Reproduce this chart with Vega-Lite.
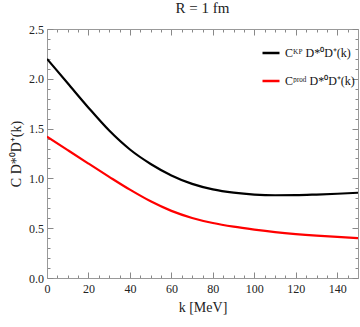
{
  "$schema": "https://vega.github.io/schema/vega-lite/v6.json",
  "width": 311,
  "height": 249,
  "autosize": {"type": "none"},
  "padding": {"left": 47, "top": 29, "right": 2, "bottom": 49},
  "config": {
    "view": {"stroke": null},
    "font": "Liberation Serif",
    "axis": {
      "grid": false,
      "domainColor": "#999999",
      "tickColor": "#888888",
      "tickSize": -6,
      "labelFont": "Liberation Serif",
      "labelFontSize": 12,
      "labelColor": "#222222",
      "titleFont": "Liberation Serif",
      "titleFontSize": 14,
      "titleFontWeight": "normal",
      "titleColor": "#222222"
    }
  },
  "title": {
    "text": "R = 1 fm",
    "font": "Liberation Serif",
    "fontSize": 15,
    "fontWeight": "normal",
    "color": "#222222",
    "offset": 7
  },
  "data": {
    "values": [
      {"k": 0, "v": 2.2, "s": "KP"},
      {"k": 10, "v": 1.955, "s": "KP"},
      {"k": 20, "v": 1.71, "s": "KP"},
      {"k": 30, "v": 1.48, "s": "KP"},
      {"k": 40, "v": 1.29, "s": "KP"},
      {"k": 50, "v": 1.145, "s": "KP"},
      {"k": 60, "v": 1.03, "s": "KP"},
      {"k": 70, "v": 0.945, "s": "KP"},
      {"k": 80, "v": 0.89, "s": "KP"},
      {"k": 90, "v": 0.857, "s": "KP"},
      {"k": 100, "v": 0.838, "s": "KP"},
      {"k": 110, "v": 0.831, "s": "KP"},
      {"k": 120, "v": 0.832, "s": "KP"},
      {"k": 130, "v": 0.838, "s": "KP"},
      {"k": 140, "v": 0.846, "s": "KP"},
      {"k": 150, "v": 0.856, "s": "KP"},
      {"k": 0, "v": 1.42, "s": "prod"},
      {"k": 10, "v": 1.284, "s": "prod"},
      {"k": 20, "v": 1.149, "s": "prod"},
      {"k": 30, "v": 1.016, "s": "prod"},
      {"k": 40, "v": 0.887, "s": "prod"},
      {"k": 50, "v": 0.77, "s": "prod"},
      {"k": 60, "v": 0.674, "s": "prod"},
      {"k": 70, "v": 0.603, "s": "prod"},
      {"k": 80, "v": 0.552, "s": "prod"},
      {"k": 90, "v": 0.515, "s": "prod"},
      {"k": 100, "v": 0.486, "s": "prod"},
      {"k": 110, "v": 0.461, "s": "prod"},
      {"k": 120, "v": 0.441, "s": "prod"},
      {"k": 130, "v": 0.425, "s": "prod"},
      {"k": 140, "v": 0.412, "s": "prod"},
      {"k": 150, "v": 0.4, "s": "prod"}
    ]
  },
  "resolve": {"axis": {"x": "independent", "y": "independent"}},
  "layer": [
    {
      "mark": {"type": "line", "interpolate": "monotone", "strokeWidth": 2.2, "clip": true},
      "encoding": {
        "x": {
          "field": "k", "type": "quantitative",
          "scale": {"domain": [0, 150], "nice": false, "zero": false},
          "axis": {
            "orient": "bottom",
            "title": "k [MeV]",
            "titlePadding": 6,
            "values": [0,5,10,15,20,25,30,35,40,45,50,55,60,65,70,75,80,85,90,95,100,105,110,115,120,125,130,135,140,145,150],
            "labelExpr": "datum.value % 20 === 0 ? datum.label : ''",
            "tickDash": {"condition": {"test": "datum.value % 20 === 0", "value": []}, "value": [3, 20]},
            "labelPadding": 11,
            "labelFlush": false
          }
        },
        "y": {
          "field": "v", "type": "quantitative",
          "scale": {"domain": [0, 2.5], "nice": false},
          "axis": {
            "orient": "left",
            "title": "C D*⁰D⁺(k)",
            "titlePadding": 5,
            "values": [0,0.1,0.2,0.3,0.4,0.5,0.6,0.7,0.8,0.9,1,1.1,1.2,1.3,1.4,1.5,1.6,1.7,1.8,1.9,2,2.1,2.2,2.3,2.4,2.5],
            "labelExpr": "abs(datum.value*2 - round(datum.value*2)) < 0.001 ? format(datum.value, '.1f') : ''",
            "tickDash": {"condition": {"test": "abs(datum.value*2 - round(datum.value*2)) < 0.001", "value": []}, "value": [3, 20]},
            "labelPadding": 9.5
          }
        },
        "color": {
          "field": "s", "type": "nominal",
          "scale": {"domain": ["KP", "prod"], "range": ["#000000", "#ff0000"]},
          "legend": {
            "title": null,
            "orient": "none",
            "legendX": 214,
            "legendY": 14,
            "symbolType": "stroke",
            "symbolSize": 289,
            "symbolStrokeWidth": 2.5,
            "labelFont": "Liberation Serif",
            "labelFontSize": 12,
            "labelColor": "#111111",
            "rowPadding": 12,
            "labelOffset": 4,
            "labelExpr": "datum.value === 'KP' ? 'Cᴷᴾ D*⁰D⁺(k)' : 'Cᵖʳᵒᵈ D*⁰D⁺(k)'"
          }
        }
      }
    },
    {
      "mark": {"type": "line", "strokeOpacity": 0},
      "encoding": {
        "x": {
          "field": "k", "type": "quantitative",
          "scale": {"domain": [0, 150], "nice": false, "zero": false},
          "axis": {
            "orient": "top",
            "title": null,
            "labels": false,
            "values": [0,5,10,15,20,25,30,35,40,45,50,55,60,65,70,75,80,85,90,95,100,105,110,115,120,125,130,135,140,145,150],
            "tickDash": {"condition": {"test": "datum.value % 20 === 0", "value": []}, "value": [3, 20]}
          }
        },
        "y": {
          "field": "v", "type": "quantitative",
          "scale": {"domain": [0, 2.5], "nice": false},
          "axis": {
            "orient": "right",
            "title": null,
            "labels": false,
            "values": [0,0.1,0.2,0.3,0.4,0.5,0.6,0.7,0.8,0.9,1,1.1,1.2,1.3,1.4,1.5,1.6,1.7,1.8,1.9,2,2.1,2.2,2.3,2.4,2.5],
            "tickDash": {"condition": {"test": "abs(datum.value*2 - round(datum.value*2)) < 0.001", "value": []}, "value": [3, 20]}
          }
        },
        "detail": {"field": "s", "type": "nominal"}
      }
    }
  ]
}
